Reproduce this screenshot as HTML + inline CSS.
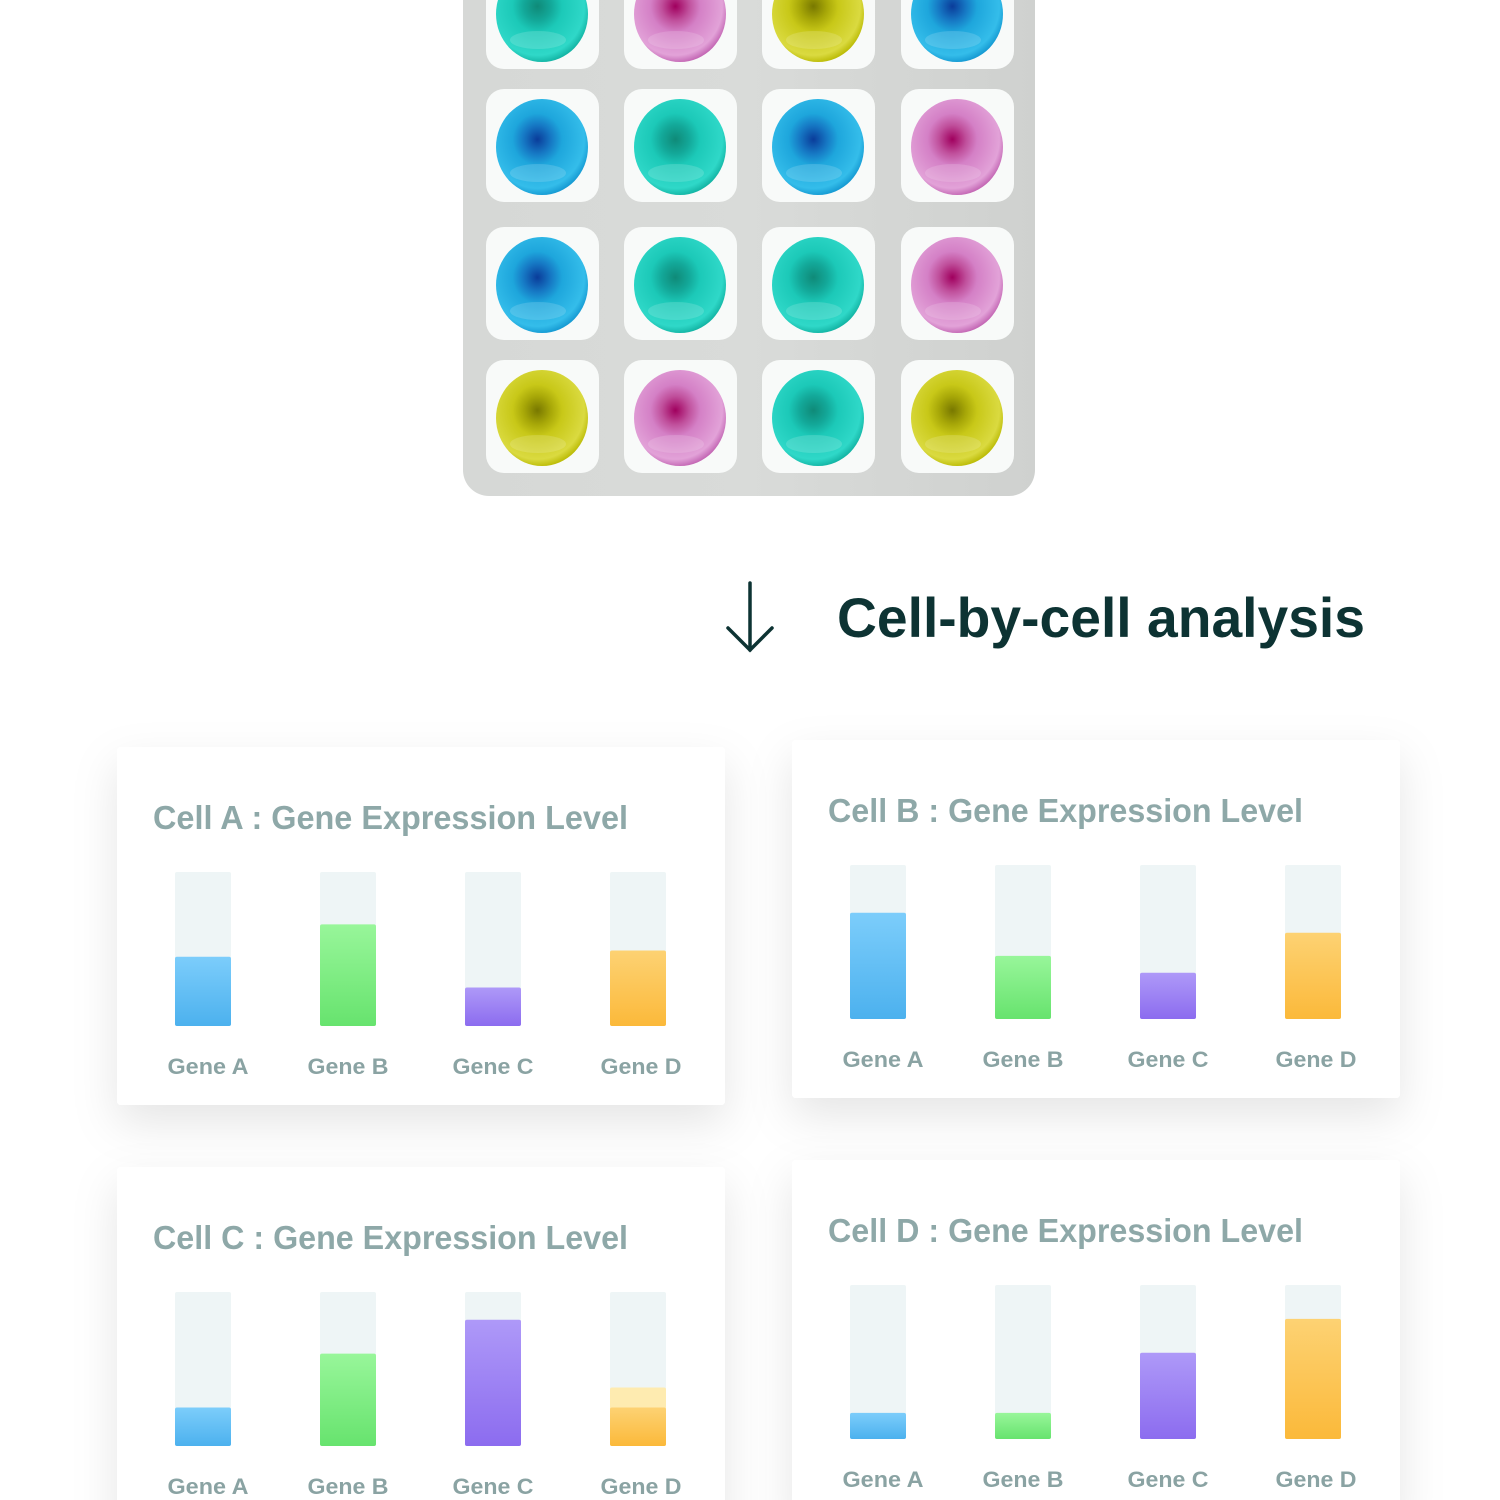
<!DOCTYPE html>
<html><head><meta charset="utf-8"><style>
html,body{margin:0;padding:0;background:#fff;}
svg{display:block;font-family:"Liberation Sans",sans-serif;}
</style></head><body>
<svg id="s" width="1500" height="1500" viewBox="0 0 1500 1500">
<defs>
<linearGradient id="plateG" x1="0" x2="1"><stop offset="0" stop-color="#d6d8d6"/><stop offset="0.5" stop-color="#d9dbd9"/><stop offset="1" stop-color="#cfd1cf"/></linearGradient>
<filter id="sh" x="-20%" y="-20%" width="140%" height="150%"><feDropShadow dx="0" dy="18" stdDeviation="22" flood-color="#000" flood-opacity="0.10"/></filter>
<linearGradient id="gA" x1="0" y1="0" x2="0" y2="1"><stop offset="0" stop-color="#7ccdfb"/><stop offset="1" stop-color="#4cb1ee"/></linearGradient>
<linearGradient id="gB" x1="0" y1="0" x2="0" y2="1"><stop offset="0" stop-color="#98f69a"/><stop offset="1" stop-color="#67e36e"/></linearGradient>
<linearGradient id="gC" x1="0" y1="0" x2="0" y2="1"><stop offset="0" stop-color="#ae99f8"/><stop offset="1" stop-color="#8c6cef"/></linearGradient>
<linearGradient id="gD" x1="0" y1="0" x2="0" y2="1"><stop offset="0" stop-color="#fdd273"/><stop offset="1" stop-color="#fbb93a"/></linearGradient>
<radialGradient id="c-teal" cx="0.45" cy="0.42" r="0.6"><stop offset="0" stop-color="#0f8a78"/><stop offset="0.25" stop-color="#13a899"/><stop offset="0.45" stop-color="#1cc9b8"/><stop offset="0.85" stop-color="#2fd8c8"/><stop offset="1" stop-color="#10b0a0"/></radialGradient>
<radialGradient id="c-blue" cx="0.45" cy="0.42" r="0.6"><stop offset="0" stop-color="#0a3c9a"/><stop offset="0.25" stop-color="#1678c4"/><stop offset="0.45" stop-color="#1ea6dc"/><stop offset="0.85" stop-color="#34bdea"/><stop offset="1" stop-color="#1296d0"/></radialGradient>
<radialGradient id="c-mag" cx="0.45" cy="0.42" r="0.6"><stop offset="0" stop-color="#a0005e"/><stop offset="0.25" stop-color="#c0509c"/><stop offset="0.45" stop-color="#d480c6"/><stop offset="0.85" stop-color="#e2a2d8"/><stop offset="1" stop-color="#c060b0"/></radialGradient>
<radialGradient id="c-yel" cx="0.45" cy="0.42" r="0.6"><stop offset="0" stop-color="#787800"/><stop offset="0.25" stop-color="#a8a808"/><stop offset="0.45" stop-color="#c8c818"/><stop offset="0.85" stop-color="#dada40"/><stop offset="1" stop-color="#b8b800"/></radialGradient>
</defs>
<rect x="463" y="-40" width="572" height="536" rx="26" fill="url(#plateG)"/>
<g id="wells"></g>
<g stroke="#0d3333" stroke-width="3.5" fill="none" stroke-linecap="round">
<line x1="750" y1="583" x2="750" y2="650"/><polyline points="728,628 750,650 772,628"/>
</g>
<text x="837" y="637" font-size="56" font-weight="bold" fill="#0d3333" textLength="528" lengthAdjust="spacingAndGlyphs">Cell-by-cell analysis</text>
<g id="cards"></g>
</svg>
<script>
const wellColors = [["teal","mag","yel","blue"],["blue","teal","blue","mag"],["blue","teal","teal","mag"],["yel","mag","teal","yel"]];
const genes = ["Gene A","Gene B","Gene C","Gene D"];
const cellNames = ["Cell A","Cell B","Cell C","Cell D"];
const cellAValues = [0.45,0.66,0.25,0.49];
const cellBValues = [0.69,0.41,0.30,0.56];
const cellCValues = [0.25,0.60,0.82,0.25];
const cellDValues = [0.17,0.17,0.56,0.78];
const cellCExtraD = 0.38;

const NS="http://www.w3.org/2000/svg";
function mk(tag,attrs,parent){const e=document.createElementNS(NS,tag);for(const k in attrs)e.setAttribute(k,attrs[k]);parent.appendChild(e);return e;}
const wells=document.getElementById('wells');
const wx=[486,624,762,901], wy=[-44,89,227,360];
wellColors.forEach((row,r)=>row.forEach((c,ci)=>{
  const w=mk('rect',{x:wx[ci],y:wy[r],width:113,height:113,rx:18,fill:'#f8faf9'},wells);
  
  
  const cx=wx[ci]+56, cy=wy[r]+58;
  const cell=mk('ellipse',{cx:cx,cy:cy,rx:46,ry:48,fill:'url(#c-'+c+')'},wells);
  
  
  mk('ellipse',{cx:cx-4,cy:cy+26,rx:28,ry:9,fill:'#fff',opacity:0.15},wells);
}));

const cards=document.getElementById('cards');
const cardPos=[[117,747],[792,740],[117,1167],[792,1160]];
const allVals=[cellAValues,cellBValues,cellCValues,cellDValues];
const grads=['gA','gB','gC','gD'];
const labelShift=[5,0,0,3];
const trackH=154;
function yScale(v,bottom){return bottom-v*trackH;}
cardPos.forEach((p,i)=>{
  const g=mk('g',{},cards);
  
  
  const bg=mk('rect',{x:p[0],y:p[1],width:608,height:358,rx:4,fill:'#fff',filter:'url(#sh)'},g);
  
  
  const t=mk('text',{x:p[0]+36,y:p[1]+82,'font-size':33,'font-weight':'bold',fill:'#8ea8a8',textLength:475,lengthAdjust:'spacingAndGlyphs'},g);
  t.textContent=cellNames[i]+' : Gene Expression Level';
  
  
  const top=p[1]+125, bottom=top+trackH;
  allVals[i].forEach((v,j)=>{
    const x=p[0]+58+j*145;
    const tr=mk('rect',{x:x,y:top,width:56,height:trackH,rx:2,fill:'#eef5f6'},g);
    
    
    if(i===2&&j===3){
      const ex=mk('rect',{x:x,y:yScale(cellCExtraD,bottom),width:56,height:bottom-yScale(cellCExtraD,bottom),rx:2,fill:'#feebb0'},g);
      
      
    }
    const y=yScale(v,bottom);
    const b=mk('rect',{x:x,y:y,width:56,height:bottom-y,rx:2,fill:'url(#'+grads[j]+')'},g);
    
    
    const l=mk('text',{x:x+28+labelShift[j],y:bottom+48,'font-size':22,'font-weight':'bold',fill:'#8aa3a3','text-anchor':'middle',textLength:81,lengthAdjust:'spacingAndGlyphs'},g);
    l.textContent=genes[j];
    
    
  });
});
</script>
</body></html>
